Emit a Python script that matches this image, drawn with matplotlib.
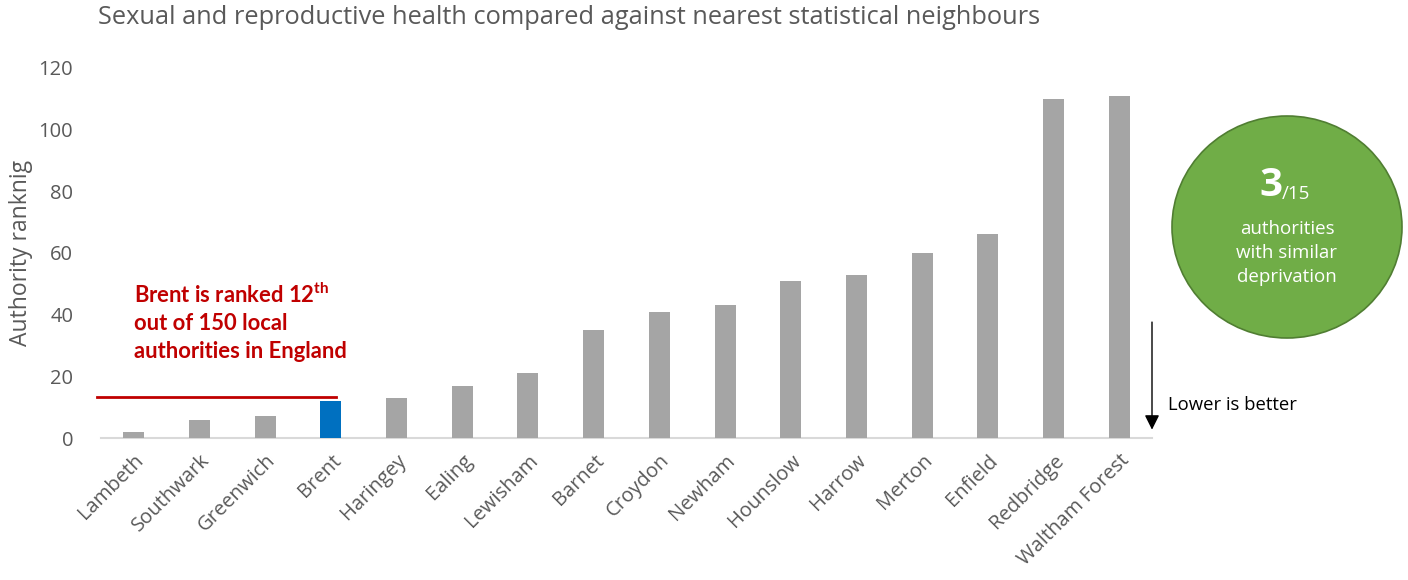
import matplotlib.pyplot as plt
from matplotlib.patches import Ellipse

plt.rcParams['mathtext.fontset'] = 'custom'
plt.rcParams['mathtext.bf'] = 'Lato:bold'
plt.rcParams['mathtext.rm'] = 'Lato'

# Neighbour authorities and their national ranking
authorities = ['Lambeth', 'Southwark', 'Greenwich', 'Brent', 'Haringey', 'Ealing',
               'Lewisham', 'Barnet', 'Croydon', 'Newham', 'Hounslow', 'Harrow',
               'Merton', 'Enfield', 'Redbridge', 'Waltham Forest']
ranking = [2, 6, 7, 12, 13, 17, 21, 35, 41, 43, 51, 53, 60, 66, 110, 111]
highlight = 'Brent'
brent_rank = 12
neighbours_better = 3
neighbours_total = 15

grey_text = '#595959'
bar_colors = ['#0070C0' if a == highlight else '#A5A5A5' for a in authorities]

fig = plt.figure(figsize=(14.08, 5.8), dpi=100)
ax = fig.add_axes([101 / 1408, 1 - 438 / 580, (1152 - 101) / 1408, (438 - 68) / 580])

x = range(len(authorities))
ax.bar(x, ranking, width=0.32, color=bar_colors, zorder=3)

ax.set_xlim(-0.5, len(authorities) - 0.5)
ax.set_ylim(0, 120)
ax.set_yticks(range(0, 121, 20))
ax.set_xticks(list(x))
ax.set_xticklabels(authorities, rotation=45, ha='right', rotation_mode='anchor',
                   fontsize=14.5, color=grey_text, family='Open Sans')
for lbl in ax.get_yticklabels():
    lbl.set_fontsize(14.5)
    lbl.set_color(grey_text)
    lbl.set_family('Open Sans')
ax.tick_params(axis='both', length=0)
ax.tick_params(axis='x', pad=9)
ax.tick_params(axis='y', pad=20)

for side in ['top', 'right', 'left']:
    ax.spines[side].set_visible(False)
ax.spines['bottom'].set_color('#D9D9D9')
ax.spines['bottom'].set_linewidth(1.5)

ax.set_ylabel('Authority ranknig', fontsize=16.5, color=grey_text, family='Open Sans', labelpad=4)

fig.text(98 / 1408, 1 - 18 / 580, 'Sexual and reproductive health compared against nearest statistical neighbours',
         fontsize=18.3, color=grey_text, family='Open Sans', va='center', ha='left')

# Brent marker line and note
ax.plot([-0.56, 3.08], [brent_rank + 1.3, brent_rank + 1.3], color='#C00000', lw=2,
        clip_on=False, zorder=4)
ax.text(0.0, 50.5, f'{highlight} is ranked {brent_rank}$^{{\\mathbf{{th}}}}$\nout of 150 local\nauthorities in England',
        fontsize=15.8, fontweight='bold', color='#C00000', family='Lato',
        va='top', ha='left', linespacing=1.38)

# Lower is better arrow
ax.annotate('', xy=(15.5, 1.8), xytext=(15.5, 38.5),
            arrowprops=dict(arrowstyle='-|>', color='black', lw=1, mutation_scale=22),
            annotation_clip=False)
fig.text(1168 / 1408, 1 - 405 / 580, 'Lower is better', fontsize=13.3, color='black',
         family='Open Sans', va='center', ha='left')

# Green summary circle
circ = Ellipse((1287 / 1408, 1 - 227 / 580), 230 / 1408, 222 / 580, transform=fig.transFigure,
               facecolor='#70AD47', edgecolor='#507E32', lw=1.2)
fig.patches.append(circ)
fig.text(1282 / 1408, 1 - 186 / 580, str(neighbours_better), fontsize=29, fontweight='bold',
         color='white', family='Open Sans', ha='right', va='center')
fig.text(1282 / 1408, 1 - 194 / 580, f'/{neighbours_total}', fontsize=13.5, color='white',
         family='Open Sans', ha='left', va='center')
fig.text(1287 / 1408, 1 - 253 / 580, 'authorities\nwith similar\ndeprivation', fontsize=13.5,
         color='white', family='Open Sans', ha='center', va='center', linespacing=1.45)

plt.savefig('out.png', dpi=100)
plt.close()
